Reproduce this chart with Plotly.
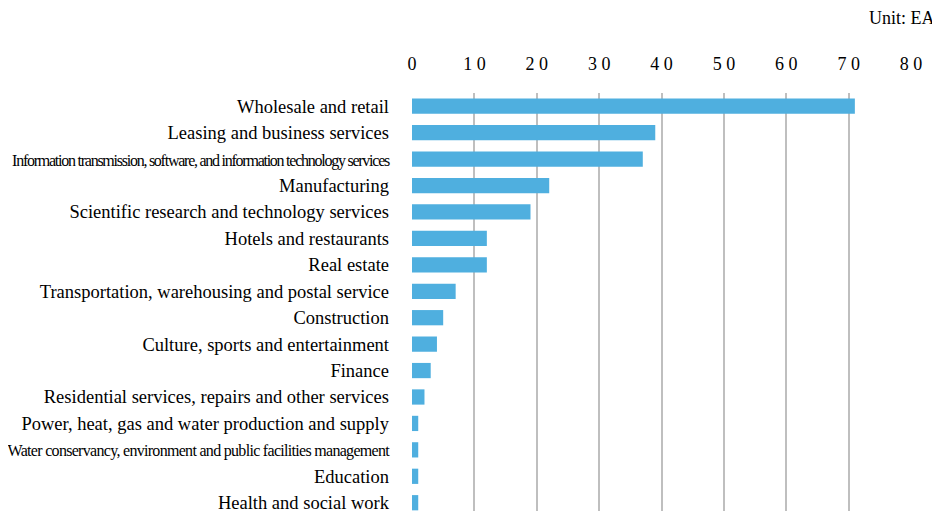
import plotly.graph_objects as go

categories = [
    "Wholesale and retail",
    "Leasing and business services",
    "Information transmission, software, and information technology services",
    "Manufacturing",
    "Scientific research and technology services",
    "Hotels and restaurants",
    "Real estate",
    "Transportation, warehousing and postal service",
    "Construction",
    "Culture, sports and entertainment",
    "Finance",
    "Residential services, repairs and other services",
    "Power, heat, gas and water production and supply",
    "Water conservancy, environment and public facilities management",
    "Education",
    "Health and social work",
]
values = [71, 39, 37, 22, 19, 12, 12, 7, 5, 4, 3, 2, 1, 1, 1, 1]
tick_vals = [0, 10, 20, 30, 40, 50, 60, 70, 80]
tick_text = ["0", "1 0", "2 0", "3 0", "4 0", "5 0", "6 0", "7 0", "8 0"]

condensed_style = {
    "Information transmission, software, and information technology services":
        "font-size:16px;letter-spacing:-1.25px",
    "Water conservancy, environment and public facilities management":
        "font-size:16px;letter-spacing:-0.7px",
}

def label(c):
    if c in condensed_style:
        return f'<span style="{condensed_style[c]}">{c}</span>'
    return c

cats_rev = categories[::-1]
vals_rev = values[::-1]

SERIF = "Liberation Serif, Times New Roman, serif"

fig = go.Figure(
    go.Bar(
        y=list(range(len(cats_rev))),
        x=vals_rev,
        orientation="h",
        marker=dict(color="#4FAFDF", line=dict(width=0)),
        width=0.577,
    )
)

# page body has an 8px default margin, so compensate
fig.update_layout(
    width=932,
    height=505,
    margin=dict(l=403, r=29, t=85, b=0),
    paper_bgcolor="white",
    plot_bgcolor="white",
    font=dict(family=SERIF, size=18, color="#000000"),
    showlegend=False,
    xaxis=dict(
        side="top",
        range=[0, 80],
        tickvals=tick_vals,
        ticktext=tick_text,
        showgrid=True,
        gridcolor="#BFBFBF",
        gridwidth=1.5,
        zeroline=False,
        showline=False,
        ticks="",
        ticklabelstandoff=18,
        tickfont=dict(size=18),
    ),
    yaxis=dict(
        range=[-0.313, 15.5],
        tickvals=list(range(len(cats_rev))),
        ticktext=[label(c) for c in cats_rev],
        showgrid=False,
        zeroline=False,
        ticks="",
        ticklabelstandoff=22,
        ticklabeloverflow="allow",
        tickfont=dict(size=18.5),
    ),
    annotations=[
        dict(
            text="Unit: EA",
            xref="paper",
            yref="paper",
            x=1.0,
            xshift=26,
            y=1.0,
            yshift=85 - 10,
            xanchor="right",
            yanchor="middle",
            showarrow=False,
            font=dict(size=18),
        )
    ],
)

fig.write_html("out.html")
